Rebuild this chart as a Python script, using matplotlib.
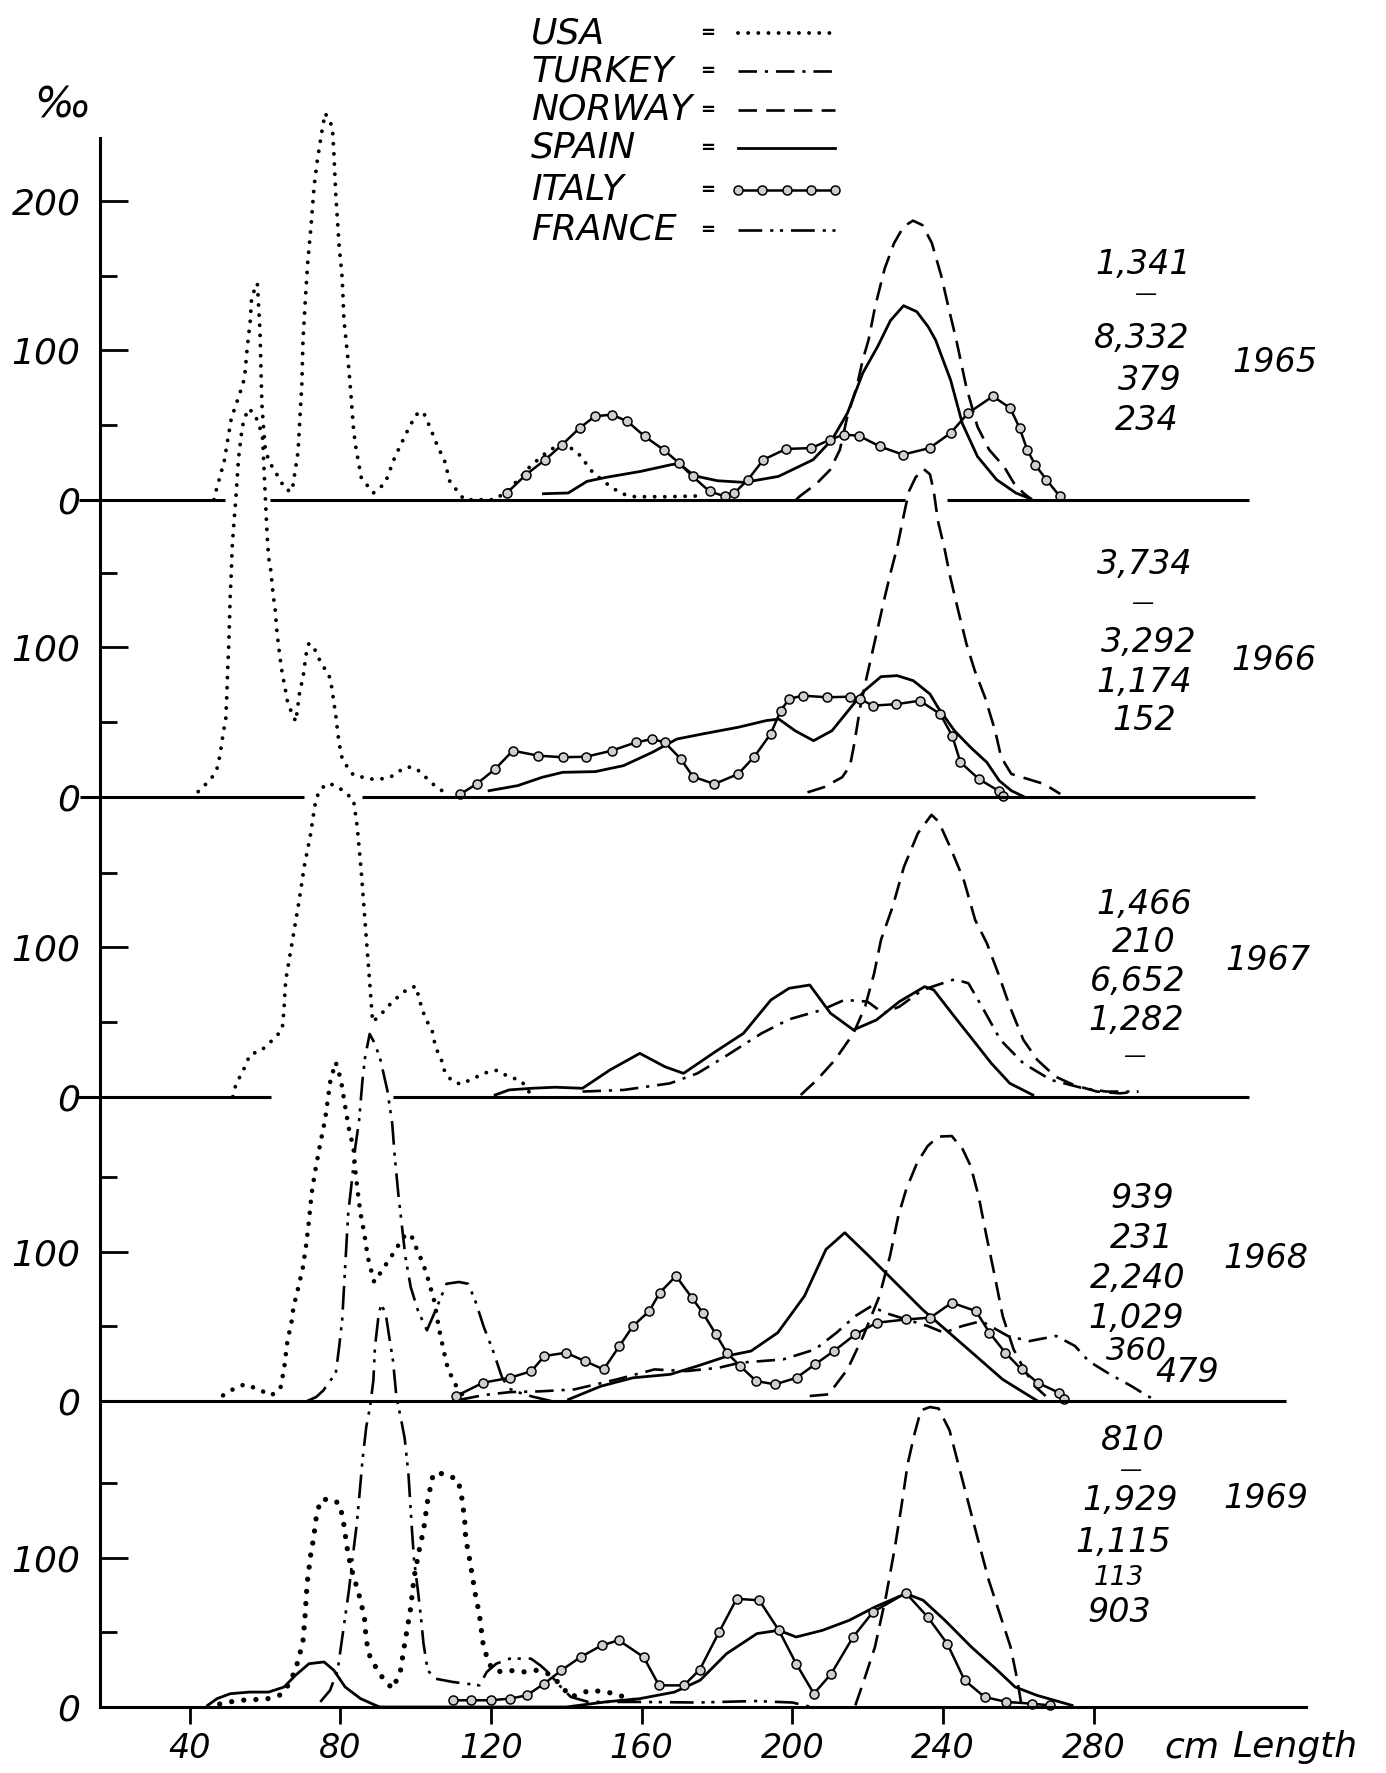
import numpy as np
import matplotlib.pyplot as plt
from matplotlib.lines import Line2D
from matplotlib import font_manager

W, H = 1386, 1773

# length frequency curves: (length cm, per mille)
usa_1965 = [(46.5, 0), (47.0, 5.6), (49.2, 25.7), (51.1, 54.7), (53.2, 70), (54.6, 81.5), (55.3, 101.6),
            (56.1, 119.5), (56.5, 136), (58.0, 145), (58.7, 113), (59.2, 64), (60.0, 36), (61.0, 26),
            (62.7, 19), (65.5, 6.7), (67.2, 5.6), (68.8, 32), (69.3, 55), (69.8, 77), (70.1, 106),
            (70.8, 137), (71.4, 160), (72.2, 182), (73.1, 211), (73.9, 227), (75.0, 245), (76.0, 259),
            (77.9, 250), (78.3, 233), (78.8, 205), (79.7, 170), (80.5, 149), (81.0, 120), (82.1, 93),
            (82.8, 71.5), (83.5, 48), (84.0, 37), (85.6, 14.5), (88.8, 4.5), (91.9, 11), (94.4, 28),
            (97.6, 45), (100.1, 57), (102.0, 59), (103.9, 48), (105.8, 36), (107.7, 26), (109.1, 12),
            (111.5, 4.5), (112.9, 0), (121.0, 0), (124.2, 5.6), (127.3, 13.4), (130.3, 22), (133.9, 30),
            (137.4, 36), (140.5, 36), (143.5, 30), (147.1, 18), (151.6, 9), (154.7, 4), (158.2, 2),
            (166.9, 2), (174.8, 2.5)]
norway_1965 = [(201.0, 0), (201.9, 2.2), (206.5, 11), (210.0, 20), (212.6, 33.5), (214.6, 56), (217.1, 76),
               (218.7, 94), (220.2, 107), (222.0, 130), (224.5, 155), (227.0, 172), (229.5, 183), (232.0, 187),
               (234.5, 184), (237.0, 172), (239.5, 150), (241.5, 128), (243.5, 107), (246.1, 76), (249.1, 49),
               (252.2, 33.5), (256.2, 22), (258.8, 11), (261.3, 4.5), (263.3, 0.5)]
spain_1965 = [(133.9, 4.0), (140.5, 4.5), (145.5, 12.3), (150.6, 15), (159.8, 19), (167.9, 23.5), (169.9, 24.1),
              (174.0, 16), (180.1, 12.7), (187.2, 11.6), (196.3, 15.6), (205.5, 26.8), (210.5, 40.2),
              (214.6, 58), (218.7, 85), (222.7, 103), (226.0, 120), (229.5, 130), (233.0, 126), (236.0, 116),
              (238.0, 107), (242.0, 80), (245.1, 51), (249.1, 29), (254.2, 13.4), (259.3, 4.5), (263.3, 0.5)]
italy_1965 = [(124.2, 4.5), (129.3, 16.8), (134.4, 26.8), (138.9, 36.9), (143.5, 48), (147.6, 55.9),
              (152.1, 57), (156.2, 52.5), (160.8, 42.4), (165.8, 33.5), (169.9, 24.6), (173.5, 15.6),
              (178.0, 5.6), (182.1, 2.2), (184.6, 4.5), (188.2, 13.4), (192.3, 26.8), (198.3, 34),
              (205.0, 34.6), (210.0, 40.2), (213.6, 43.6), (217.6, 42.9), (223.2, 35.7), (229.3, 30.2),
              (236.4, 34.6), (242.0, 44.7), (246.6, 58), (253.2, 69.3), (257.8, 61.4), (260.3, 48),
              (262.3, 33.5), (264.4, 23.5), (267.4, 13.4), (271.0, 2.2)]

usa_1966 = [(42.3, 3.4), (43.7, 6.7), (46.1, 13.4), (47.5, 20), (48.5, 34.6), (48.9, 42.4), (49.6, 51.4),
            (49.9, 68), (50.1, 83.8), (50.4, 100.5), (50.6, 117.3), (50.8, 135), (51.1, 150.8), (51.3, 166.4),
            (51.8, 184.3), (52.3, 200), (53.0, 226.7), (54.0, 248), (55.5, 260), (57.2, 257), (58.6, 248),
            (59.4, 240), (59.8, 217.8), (60.3, 191), (60.6, 175), (61.0, 160), (61.6, 151), (62.2, 135),
            (62.7, 126), (63.2, 110.6), (63.6, 101.6), (64.1, 91.6), (64.6, 82.7), (65.3, 73.7), (66.0, 63.7),
            (67.0, 57), (68.2, 50.3), (68.9, 63.7), (69.3, 71.5), (70.1, 79.3), (70.9, 95), (71.7, 102.8),
            (73.1, 99.4), (74.3, 92.7), (75.5, 87), (76.9, 82.7), (77.7, 73.7), (78.8, 54.7), (79.3, 43.6),
            (79.7, 35.7), (80.5, 25.7), (82.1, 19), (83.5, 14.5), (85.4, 13.4), (87.8, 11.8), (90.7, 11.8),
            (93.5, 13.4), (95.4, 16.8), (97.8, 20), (100.1, 19), (102.5, 13.4), (104.9, 7.8), (107.0, 4.0)]
norway_1966 = [(204.0, 2.9), (208.3, 6.3), (213.2, 13), (215.3, 20.8), (216.4, 35.3), (218.0, 60), (219.7, 80),
               (221.3, 97.8), (222.9, 115.7), (224.5, 133.6), (226.2, 151.5), (227.8, 167), (228.9, 180.5),
               (230.0, 194), (231.0, 205), (232.7, 214), (234.8, 219.6), (236.5, 216), (237.5, 205),
               (238.6, 185), (240.3, 167), (241.9, 147), (244.0, 124.7), (246.2, 102.3), (248.4, 84.4),
               (251.1, 66.6), (253.8, 44.2), (255.4, 26.4), (258.1, 15.2), (262.5, 11.8), (266.8, 8.5),
               (271.1, 1.8)]
spain_1966 = [(119.5, 4), (127.1, 7.4), (133.6, 13), (139.0, 16.3), (147.7, 16.8), (155.2, 20.8), (162.8, 29.7),
              (169.3, 38.6), (176.9, 42.4), (185.6, 46.5), (193.1, 51), (196.4, 52), (200.7, 44.2),
              (205.6, 37.5), (210.5, 44.2), (214.8, 57.6), (219.1, 71), (223.5, 80.4), (227.8, 81.1),
              (232.1, 77.7), (236.5, 68.8), (238.6, 59.9), (243.0, 44.2), (247.3, 33), (251.6, 23),
              (254.9, 10.7), (258.1, 4), (261.4, 0)]
italy_1966 = [(111.9, 1.8), (116.2, 8.5), (121.1, 18.5), (125.8, 30.8), (132.5, 27.5), (139.0, 26.4),
              (145.3, 26.8), (152.0, 30.8), (158.5, 36.4), (162.8, 38.6), (166.1, 36.4), (170.4, 25.2),
              (173.6, 13.4), (179.3, 8.5), (185.6, 15.2), (189.9, 26.8), (194.2, 42), (196.9, 57.6),
              (199.1, 65.5), (202.7, 67.7), (209.2, 66.6), (215.3, 67), (218.0, 65.5), (221.3, 61),
              (227.6, 62), (233.8, 64.3), (239.2, 55.4), (242.4, 40.9), (244.6, 23), (249.5, 11.8),
              (254.9, 3.6), (256.0, 0.7)]

usa_1967 = [(51.5, 0), (52.3, 8.3), (54.2, 17.2), (56.1, 28.4), (58.9, 30.6), (62.7, 39.5), (64.6, 45),
            (65.1, 59.6), (65.5, 77.5), (67.0, 100), (69.0, 130), (70.5, 155), (72.0, 174), (72.9, 189),
            (73.6, 200), (75.0, 206.6), (76.9, 210), (79.3, 207.7), (81.2, 204), (83.5, 199), (84.5, 181),
            (85.6, 150), (86.8, 110), (87.8, 77), (88.6, 50), (91.1, 56), (94.0, 64), (97.8, 72), (100.1, 74),
            (101.1, 64), (102.5, 53), (104.4, 44), (105.3, 33), (106.8, 25), (107.7, 17), (109.6, 10.5),
            (112.0, 8.3), (114.8, 11.6), (118.6, 16), (121.5, 17.6), (124.3, 13.9), (128.1, 10.5),
            (129.0, 7.1), (131.0, 0)]
turkey_1967 = [(144.3, 3.4), (155.3, 4.5), (167.5, 8.9), (174.8, 15.6), (182.1, 26.8), (191.8, 42.4),
               (199.1, 51.8), (207.7, 58), (213.8, 64.8), (219.9, 63.7), (224.1, 55.9), (228.4, 60.3),
               (234.5, 71.5), (243.0, 78.6), (246.7, 76), (250.3, 60.3), (255.2, 38), (261.3, 22.3),
               (268.6, 11.2), (277.2, 5.6), (283.3, 3.4), (291.8, 3.4)]
norway_1967 = [(202.2, 1.1), (206.5, 11.2), (211.3, 24.6), (216.2, 42.4), (219.3, 60.3), (221.7, 82.7),
               (223.5, 105), (226.6, 127.3), (229.6, 154), (233.3, 176.5), (236.9, 188.8), (238.8, 184.3),
               (241.8, 167.6), (245.5, 145), (248.5, 118.4), (251.6, 102.8), (254.6, 82.7), (257.7, 60.3),
               (261.3, 38), (265.0, 24.6), (269.8, 13.4), (274.7, 7.8), (280.8, 3.4), (286.9, 2.2), (291.8, 3.4)]
spain_1967 = [(121.1, 1.1), (124.8, 4.5), (130.9, 5.6), (137.0, 6.3), (144.3, 5.6), (151.6, 17.9), (159.5, 29),
              (166.2, 20), (171.1, 15.6), (179.6, 30.2), (187.0, 42.4), (194.3, 64.8), (199.1, 72.6),
              (204.6, 74.8), (210.1, 55.9), (216.2, 44.7), (222.3, 51.4), (228.4, 63.7), (235.1, 73.7),
              (237.5, 71.5), (243.0, 53.6), (247.9, 38), (252.8, 22.3), (257.7, 8.9), (263.8, 1.1)]

usa_1968 = [(48.9, 3.8), (51.8, 8.3), (54.6, 11.2), (57.9, 8.3), (61.7, 3.8), (64.1, 8.3), (65.1, 21.7),
            (66.0, 40.7), (67.0, 51.8), (67.6, 63), (68.9, 76.4), (70.1, 89.8), (71.0, 105.4), (71.7, 121),
            (72.4, 139), (73.3, 153.5), (74.5, 170), (76.0, 189), (77.4, 215), (78.8, 227), (80.2, 215),
            (81.2, 199), (82.4, 181), (83.5, 170), (84.0, 154.6), (84.7, 139), (85.4, 125.5), (86.4, 112),
            (87.3, 96.5), (89.0, 79.8), (91.1, 87.6), (94.0, 98.7), (96.8, 110), (98.7, 112), (100.1, 103),
            (102.0, 92), (103.4, 81), (104.9, 67.5), (106.3, 47.4), (108.2, 25), (109.9, 13.9), (112.0, 5),
            (115.0, 2)]
turkey_1968 = [(112, 1), (118, 4), (125, 6), (133, 6.5), (142.1, 7.8), (153.4, 14.5), (163.4, 21.2),
               (171.9, 20.1), (180.4, 22.3), (186.1, 25.7), (197.5, 27.9), (206.0, 34.6), (211.7, 45.8),
               (216.7, 57), (221.0, 63.7), (224.5, 59.2), (230.2, 54.7), (235.9, 50.3), (240.2, 45.8),
               (245.1, 50.3), (250.1, 53.6), (257.2, 43.6), (262.9, 40.2), (270.0, 43.6), (275.0, 36.9),
               (278.6, 26.8), (284.3, 17.9), (290.0, 10), (294.2, 3.4), (297, 0)]
norway_1968 = [(204.6, 3.4), (209.6, 4.5), (214.6, 21.2), (218.8, 43.6), (223.1, 70.4), (225.9, 97.2),
               (228.1, 124), (230.2, 141.9), (233.1, 159.7), (235.9, 170.9), (238.7, 177.2), (242.3, 177.6),
               (245.2, 168.7), (247.3, 157.5), (249.4, 137.4), (251.5, 110.6), (253.7, 83.8), (255.8, 57),
               (258.7, 34.6), (261.5, 21.2), (264.3, 10), (267.2, 3.4)]
spain_1968 = [(140.6, 1.1), (149.2, 10), (157.7, 15.6), (167.6, 17.9), (174.8, 23.5), (183.3, 30.6),
              (189.0, 33.5), (196.1, 45.8), (203.2, 70.4), (208.9, 101.6), (213.9, 112.8), (220.3, 97.2),
              (227.4, 79.3), (234.5, 61.4), (241.6, 45.8), (248.7, 30.2), (255.8, 14.5), (262.9, 3.4),
              (265.1, 0)]
italy_1968 = [(110.8, 3.4), (117.9, 12.3), (125.0, 15.6), (130.7, 20), (134.2, 30.2), (139.9, 32.4),
              (144.9, 26.8), (149.9, 21.2), (154.1, 36.9), (157.7, 50.3), (162.0, 60.3), (164.8, 72.6),
              (169.1, 83.8), (173.3, 69.3), (176.2, 59.2), (179.7, 44.7), (182.6, 32.4), (186.1, 23.5),
              (190.4, 13.4), (195.4, 11.2), (201.1, 15.6), (206.0, 24.6), (211.0, 33.5), (216.7, 44.7),
              (222.4, 52.5), (230.2, 54.7), (236.6, 55.9), (242.3, 65.9), (248.7, 60.3), (252.3, 45.8),
              (256.5, 32.4), (260.8, 21.2), (265.1, 12.3), (270.7, 5.6), (272.2, 1.1)]
france_1968 = [(71.2, 0), (73.6, 2.7), (75.5, 7.1), (77.4, 13.9), (78.8, 18.3), (79.7, 36.2), (80.5, 54),
               (81.2, 85.3), (82.1, 125.5), (83.1, 147.9), (84.0, 170.2), (85.0, 188), (85.9, 215),
               (86.6, 230.5), (87.8, 246), (89.2, 239.5), (90.7, 228.3), (92.5, 208.2), (93.8, 185.9),
               (94.4, 165.8), (95.4, 139), (96.3, 118.8), (97.3, 96.5), (98.7, 76.4), (100.6, 60.8),
               (103.0, 47.4), (105.3, 60.8), (108.2, 78.6), (111.5, 79.8), (113.9, 78.6), (115.8, 67.5),
               (118.1, 49.6), (120.5, 34), (122.9, 16.1), (124.8, 8.3), (127.1, 6), (131, 3), (136, 0)]

usa_1969 = [(48, 2), (52, 4), (56, 5), (60, 5), (64, 8), (66, 14), (68.1, 24.6), (70.1, 43.6), (70.7, 62.5),
            (71.2, 82.7), (72.2, 102.8), (73.0, 114), (73.4, 124), (74.7, 138.5), (77.3, 139.6), (79.8, 136.3),
            (80.8, 125), (81.8, 107), (82.8, 93.8), (84.9, 76), (86.4, 60.3), (86.9, 44.7), (87.9, 33.5),
            (89.9, 24.6), (92.0, 16.8), (94.0, 12.3), (96.0, 24.6), (97.1, 42.4), (98.6, 64.8), (99.6, 87),
            (101.1, 107), (102.1, 118.4), (103.2, 138.5), (104.7, 156.4), (107.7, 156.4), (111.3, 152),
            (112.3, 139.6), (113.0, 126), (113.3, 112.8), (114.3, 99.4), (115.9, 74.8), (116.9, 62.5),
            (117.9, 42.4), (119.4, 29), (121.4, 23.5), (124.5, 24.6), (129.0, 23.5), (132.1, 24.6),
            (135.1, 22.3), (137.7, 16.8), (141.2, 6.7), (146.3, 11.2), (150.9, 10), (155.5, 6.7), (160, 2)]
norway_1969 = [(216.7, 1.1), (219.0, 17.9), (221.9, 40.2), (224.8, 73.7), (227.2, 107), (228.9, 134),
               (230.6, 163), (232.4, 183), (234.1, 198.8), (236.5, 201), (238.8, 200), (241.7, 185.4),
               (244.0, 163), (246.3, 140.7), (248.6, 118.4), (252.1, 85), (255.6, 58), (257.9, 40.2),
               (259.7, 17.9), (260.8, 1.1)]
spain_1969 = [(44.8, 1.1), (47.3, 5.6), (50.8, 8.9), (55.9, 10), (61.0, 10), (65.1, 13.4), (68.1, 21.2),
              (71.7, 29), (75.7, 30.2), (78.3, 24.6), (81.3, 13.4), (85.4, 5.6), (89.4, 1.1), (90.5, 0),
              (140.0, 0), (150.4, 3.4), (159.5, 5.6), (168.7, 10), (175.5, 17.9), (182.5, 35.7), (190.6, 49.2),
              (196.4, 51.4), (201.0, 46.9), (208.0, 51.4), (215.0, 58), (221.9, 67), (230.1, 76), (234.7, 71.5),
              (240.5, 58), (247.5, 40.2), (254.4, 24.6), (259.1, 13.4), (264.9, 7.8), (274.2, 1.1)]
italy_1969 = [(109.8, 4.5), (114.8, 4.5), (119.9, 4.5), (125.0, 5.6), (129.5, 7.8), (134.1, 15.6), (138.7, 24.6),
              (143.8, 33.5), (149.4, 41.3), (153.9, 44.7), (160.5, 33.5), (164.6, 14.5), (171.2, 14.5),
              (175.4, 25), (180.5, 50), (185.2, 72.5), (191.2, 71.5), (196.4, 51.4), (201.0, 29), (205.7, 8.9),
              (210.3, 22.3), (216.1, 46.9), (221.4, 63.7), (230.1, 76.4), (235.9, 60.3), (241.1, 42.4),
              (245.7, 17.9), (251.0, 6.7), (256.8, 3.4), (263.7, 2.2), (268.4, 1.1)]
france_1969 = [(74.7, 3.4), (77.3, 11.2), (79.3, 24.6), (80.3, 42.4), (81.3, 60.3), (82.3, 78.2), (83.3, 100.5),
               (84.4, 122.9), (85.2, 145.2), (85.9, 165.3), (86.9, 187.7), (87.9, 201), (88.8, 219),
               (89.2, 241), (90.2, 263), (90.9, 270), (92.1, 263), (93.0, 248), (94.0, 232), (94.9, 208),
               (96.2, 192), (97.1, 180), (98.1, 156), (98.6, 136), (99.1, 116), (99.6, 98.3), (100.6, 78.2),
               (101.4, 60.3), (102.1, 42.4), (103.2, 24.6), (105.2, 19), (109.8, 16.8), (116.9, 14.5),
               (118.9, 23.5), (121.4, 29), (125.0, 32.4), (130.6, 32.4), (133.1, 27.9), (135.6, 22.3),
               (137.7, 15.6), (141.2, 6.7), (145.8, 3.4), (151.4, 3.4), (159.5, 3.4), (175, 3), (190, 4),
               (200, 3), (205, 0)]

countries = ["USA", "TURKEY", "NORWAY", "SPAIN", "ITALY", "FRANCE"]
years = [1965, 1966, 1967, 1968, 1969]
counts_1965 = ["1,341", "\u2014", "8,332", "379", "234"]
counts_1966 = ["3,734", "\u2014", "3,292", "1,174", "152"]
counts_1967 = ["1,466", "210", "6,652", "1,282", "\u2014"]
counts_1968 = ["939", "231", "2,240", "1,029", "360", "479"]
counts_1969 = ["810", "\u2014", "1,929", "1,115", "113", "903"]
x_ticks = [40, 80, 120, 160, 200, 240, 280]

curves = [
    (1965, "USA", usa_1965), (1965, "NORWAY", norway_1965), (1965, "SPAIN", spain_1965), (1965, "ITALY", italy_1965),
    (1966, "USA", usa_1966), (1966, "NORWAY", norway_1966), (1966, "SPAIN", spain_1966), (1966, "ITALY", italy_1966),
    (1967, "USA", usa_1967), (1967, "TURKEY", turkey_1967), (1967, "NORWAY", norway_1967), (1967, "SPAIN", spain_1967),
    (1968, "USA", usa_1968), (1968, "TURKEY", turkey_1968), (1968, "NORWAY", norway_1968),
    (1968, "SPAIN", spain_1968), (1968, "ITALY", italy_1968), (1968, "FRANCE", france_1968),
    (1969, "USA", usa_1969), (1969, "NORWAY", norway_1969), (1969, "SPAIN", spain_1969),
    (1969, "ITALY", italy_1969), (1969, "FRANCE", france_1969),
]

# baseline of each year, stacked in per mille units
offset = {1965: 809, 1966: 610, 1967: 409, 1968: 205, 1969: 0}

styles = {
    "USA": dict(color="k", lw=2.8, ls=(0, (0.01, 2.6)), dash_capstyle="round"),
    "TURKEY": dict(color="k", lw=1.9, ls=(0, (7, 3, 1.2, 3))),
    "NORWAY": dict(color="k", lw=1.9, ls=(0, (7, 3.5))),
    "SPAIN": dict(color="k", lw=2.0, ls="-"),
    "ITALY": dict(color="k", lw=1.8, ls="-", marker="o", ms=6.5, mfc="#cfcfcf", mec="k", mew=1.1),
    "FRANCE": dict(color="k", lw=1.9, ls=(0, (9, 3, 1.2, 2.5, 1.2, 3))),
}
# the 1968/69 USA dots were drawn heavier
heavier = {(1968, "USA"): dict(lw=3.3, ls=(0, (0.01, 2.4))), (1969, "USA"): dict(lw=3.8, ls=(0, (0.01, 2.3)))}

names = {f.name for f in font_manager.fontManager.ttflist}
if "Liberation Sans Narrow" in names:
    NUM_FONT, NUM_SIZE = "Liberation Sans Narrow", 28
else:
    NUM_FONT, NUM_SIZE = "DejaVu Sans", 24

fig = plt.figure(figsize=(W / 100, H / 100), dpi=100)
ax = fig.add_axes([100 / W, (H - 1707) / H, 1206 / W, 1568.6 / H])
ax.set_xlim(16.24, 336.3)
ax.set_ylim(0, 1051.1)

for year, name, pts in curves:
    a = np.array(pts, dtype=float)
    st = dict(styles[name])
    st.update(heavier.get((year, name), {}))
    ax.plot(a[:, 0], a[:, 1] + offset[year], clip_on=False, **st)

# panel baselines, broken where a lower curve passes through
baseline_parts = {
    1965: [(10.6, 49.4), (61.3, 229.8), (241.0, 321.2)],
    1966: [(11.0, 70.3), (85.9, 322.7)],
    1967: [(10.1, 61.7), (94.0, 321.2)],
    1968: [(16.2, 331.1)],
}
for y, parts in baseline_parts.items():
    for a, b in parts:
        ax.plot([a, b], [offset[y], offset[y]], color="k", lw=2.2, clip_on=False, solid_capstyle="butt")

for s in ["top", "right"]:
    ax.spines[s].set_visible(False)
ax.spines["left"].set_linewidth(2.2)
ax.spines["bottom"].set_linewidth(2.2)

major, major_lab = [], []
for y in years:
    major += [offset[y], offset[y] + 100]
    major_lab += ["0", "100"]
major.append(offset[1965] + 200)
major_lab.append("200")
minor = [offset[y] + d for y in years for d in (50, 150)]
ax.set_yticks(major)
ax.set_yticklabels(major_lab, fontstyle="italic", fontsize=26)
ax.set_yticks(minor, minor=True)
ax.tick_params(axis="y", which="major", direction="in", length=20, width=2, pad=14)
ax.tick_params(axis="y", which="minor", direction="in", length=12, width=2)

ax.set_xticks(x_ticks)
ax.set_xticklabels([str(t) for t in x_ticks], fontstyle="italic", fontsize=NUM_SIZE, family=NUM_FONT)
ax.tick_params(axis="x", direction="out", length=12, width=2, pad=6)


def ftext(x, y, s, **kw):
    kw.setdefault("ha", "center")
    kw.setdefault("va", "center")
    kw.setdefault("fontstyle", "italic")
    fig.text(x / W, 1 - y / H, s, **kw)


ftext(62, 106, "\u2030", fontsize=30)
ftext(1192, 1747, "cm", fontsize=26)
ftext(1295, 1747, "Length", fontsize=26)

# legend: name = line sample
leg_y = [33, 71, 110, 148, 190, 230]
for name, y in zip(countries, leg_y):
    ftext(531, y, name, fontsize=26, ha="left")
    ftext(708, y, "=", fontsize=13, fontweight="bold")
    xs = np.linspace(738, 835, 5) / W
    ys = np.full(5, 1 - y / H)
    fig.add_artist(Line2D(xs, ys, transform=fig.transFigure, **styles[name]))

# sample sizes per year
count_pos = {
    1965: [(1143, 265), (1145, 294), (1142, 338), (1150, 380), (1147, 420)],
    1966: [(1145, 565), (1142, 603), (1149, 642), (1144, 683), (1144, 720)],
    1967: [(1144, 904), (1144, 943), (1138, 982), (1136, 1021), (1134, 1056)],
    1968: [(1142, 1198), (1142, 1239), (1138, 1279), (1136, 1318), (1136, 1351), (1187, 1373)],
    1969: [(1133, 1441), (1130, 1470), (1130, 1501), (1123, 1542), (1119, 1578), (1119, 1613)],
}
small = {(1969, "113"): 19, (1968, "360"): 23}
year_pos = {1965: (1275, 363), 1966: (1274, 661), 1967: (1268, 961), 1968: (1266, 1258), 1969: (1266, 1499)}
counts = {1965: counts_1965, 1966: counts_1966, 1967: counts_1967, 1968: counts_1968, 1969: counts_1969}
for y in years:
    for s, (px, py) in zip(counts[y], count_pos[y]):
        size = 16 if s == "\u2014" else small.get((y, s), NUM_SIZE)
        ftext(px, py, s, fontsize=size, family=NUM_FONT)
    ftext(year_pos[y][0], year_pos[y][1], str(y), fontsize=NUM_SIZE, family=NUM_FONT)

fig.savefig("out.png", dpi=100, facecolor="white")
